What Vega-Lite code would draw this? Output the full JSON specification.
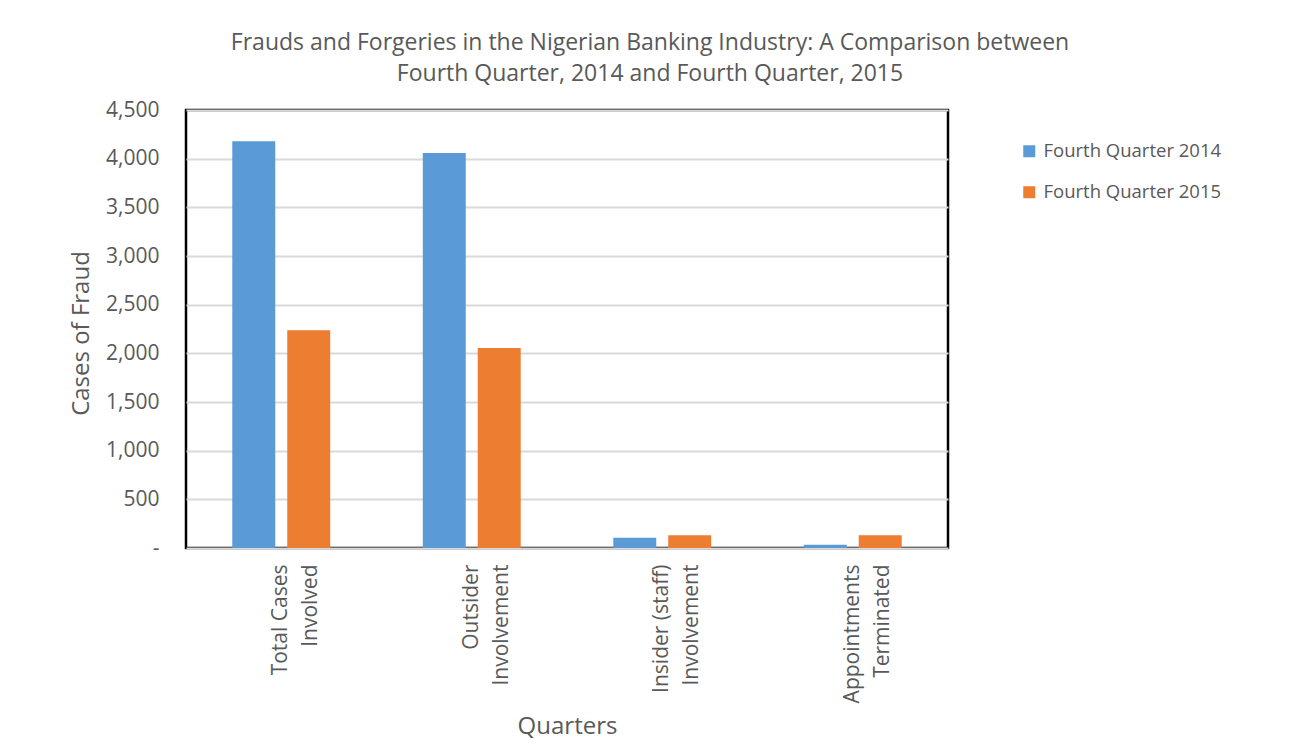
{
  "$schema": "https://vega.github.io/schema/vega-lite/v6.json",
  "autosize": {"type": "none"},
  "width": 762,
  "height": 438,
  "padding": {"left": 186, "top": 110, "right": 353, "bottom": 205},
  "background": "white",
  "title": {
    "text": ["Frauds and Forgeries in the Nigerian Banking Industry: A Comparison between", "Fourth Quarter, 2014 and Fourth Quarter, 2015"],
    "font": "Open Sans",
    "fontSize": 23,
    "fontWeight": "normal",
    "color": "#595959",
    "anchor": "middle",
    "dx": 83,
    "offset": 13,
    "lineHeight": 31
  },
  "data": {
    "values": [
      {"category": "Total Cases|Involved", "order": 1, "series": "Fourth Quarter 2014", "cases": 4179},
      {"category": "Total Cases|Involved", "order": 1, "series": "Fourth Quarter 2015", "cases": 2236},
      {"category": "Outsider|Involvement", "order": 2, "series": "Fourth Quarter 2014", "cases": 4059},
      {"category": "Outsider|Involvement", "order": 2, "series": "Fourth Quarter 2015", "cases": 2054},
      {"category": "Insider (staff)|Involvement", "order": 3, "series": "Fourth Quarter 2014", "cases": 106},
      {"category": "Insider (staff)|Involvement", "order": 3, "series": "Fourth Quarter 2015", "cases": 130},
      {"category": "Appointments|Terminated", "order": 4, "series": "Fourth Quarter 2014", "cases": 34},
      {"category": "Appointments|Terminated", "order": 4, "series": "Fourth Quarter 2015", "cases": 130}
    ]
  },
  "mark": {"type": "bar"},
  "encoding": {
    "x": {
      "field": "category",
      "type": "nominal",
      "sort": {"field": "order"},
      "scale": {"paddingInner": 0.486, "paddingOuter": 0.243},
      "axis": {
        "title": "Quarters",
        "titleFont": "Open Sans",
        "titleFontSize": 24,
        "titleFontWeight": "normal",
        "titleColor": "#595959",
        "titlePadding": 12,
        "labelAngle": -90,
        "labelAlign": "right",
        "labelBaseline": "middle",
        "labelExpr": "split(datum.value, '|')",
        "labelFont": "Open Sans",
        "labelFontSize": 21,
        "labelColor": "#595959",
        "labelLineHeight": 30,
        "labelPadding": 16,
        "ticks": false,
        "domain": false
      }
    },
    "xOffset": {
      "field": "series",
      "type": "nominal",
      "scale": {"paddingInner": 0.218, "paddingOuter": 0}
    },
    "y": {
      "field": "cases",
      "type": "quantitative",
      "scale": {"domain": [0, 4500], "nice": false},
      "axis": {
        "title": "Cases of Fraud",
        "titleFont": "Open Sans",
        "titleFontSize": 24,
        "titleFontWeight": "normal",
        "titleColor": "#595959",
        "titlePadding": 12,
        "titleY": 223,
        "values": [0, 500, 1000, 1500, 2000, 2500, 3000, 3500, 4000, 4500],
        "labelExpr": "datum.value == 0 ? '-' : format(datum.value, ',')",
        "labelFont": "Open Sans",
        "labelFontSize": 21,
        "labelColor": "#595959",
        "labelPadding": 27,
        "ticks": false,
        "domain": false,
        "grid": true,
        "gridColor": "#d9d9d9",
        "gridWidth": 2
      }
    },
    "color": {
      "field": "series",
      "type": "nominal",
      "scale": {"domain": ["Fourth Quarter 2014", "Fourth Quarter 2015"], "range": ["#5B9BD5", "#ED7D31"]},
      "legend": {
        "title": null,
        "orient": "none",
        "legendX": 834,
        "legendY": 32,
        "symbolType": "square",
        "symbolSize": 144,
        "symbolStrokeWidth": 0,
        "labelFont": "Open Sans",
        "labelFontSize": 18.5,
        "labelColor": "#595959",
        "labelLimit": 400,
        "rowPadding": 22,
        "labelOffset": 5
      }
    }
  },
  "config": {
    "view": {"stroke": "#000000", "strokeWidth": 2.5}
  }
}
